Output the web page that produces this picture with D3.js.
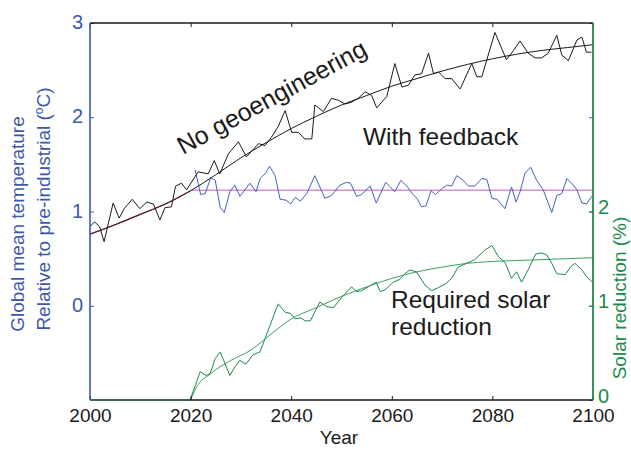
<!DOCTYPE html>
<html>
<head>
<meta charset="utf-8">
<script src="https://cdn.jsdelivr.net/npm/d3@7"></script>
<style>
  body { margin: 0; background: #fff; }
  svg { font-family: "Liberation Sans", Arial, Helvetica, sans-serif; }
</style>
</head>
<body>
<svg id="chart" width="631" height="449"></svg>
<script>
// ---- data ----
// no geoengineering, noisy (year, degC)
const noGeoYears = [2000,2000.9,2001.9,2002.8,2004.6,2005.8,2006.8,2008.4,2009.9,2011.3,2012.6,2013.9,2014.9,2016.2,2017,2018.2,2019.2,
  2021.5,2023.5,2024.7,2025.8,2027.5,2029.5,2031.1,2033.5,2034.8,2036.1,2037.4,2038.8,2040.1,2041.4,2042.7,2044.1,2044.7,2046.4,2048,
  2049.4,2050.7,2052,2053.3,2054.7,2056,2057,2058,2059,2060.6,2062,2063.3,2064.6,2065.9,2067.3,2068.3,2069.3,2070.6,2071.9,2073.6,
  2075.9,2076.9,2077.9,2080.5,2082.8,2084.2,2085.5,2087.1,2088.5,2089.8,2091.1,2092.8,2093.8,2095.1,2096.8,2097.8,2098.7,2099.7];
const noGeoTemp = [0.84,0.89,0.84,0.68,1.09,0.93,1.03,1.13,1.03,1.10,1.08,0.91,1.04,1.05,1.27,1.30,1.23,
  1.42,1.40,1.54,1.40,1.61,1.74,1.58,1.72,1.70,1.79,1.90,2.07,1.84,1.84,1.77,1.77,2.13,2.06,2.20,
  2.18,2.14,2.16,2.20,2.27,2.23,2.10,2.16,2.22,2.57,2.32,2.34,2.45,2.46,2.68,2.46,2.48,2.41,2.41,2.30,
  2.57,2.43,2.43,2.90,2.61,2.71,2.81,2.68,2.63,2.63,2.68,2.87,2.66,2.60,2.82,2.85,2.69,2.69];

// no geoengineering, smooth trend
const trendYears = [2000,2005,2010,2015,2020,2025,2030,2035,2040,2045,2050,2055,2060,2065,2070,2075,2080,2085,2090,2095,2100];
const trendTemp  = [0.76,0.86,0.97,1.08,1.22,1.39,1.57,1.73,1.88,2.01,2.13,2.23,2.33,2.41,2.49,2.56,2.62,2.67,2.71,2.74,2.77];
const histEnd = 2021;

// with feedback (geoengineered temperature)
const fbYears = [2020.9,2022,2022.9,2024,2024.9,2025.9,2026.7,2027.8,2028.8,2029.8,2031.8,2033,2033.8,2034.8,2035.7,2036.8,2037.8,2039,
  2039.9,2040.8,2041.8,2043.1,2044.7,2046.7,2048,2049.7,2051,2051.8,2053,2054,2055.7,2056.9,2058.8,2060.6,2061.8,2063,2064.2,2065,
  2065.9,2066.8,2067.8,2068.7,2069.9,2070.9,2071.9,2072.9,2074.2,2075.2,2076.5,2077.9,2078.9,2079.9,2080.9,2082.5,2083.8,2084.7,
  2085.5,2086.5,2087.6,2088.8,2090.1,2091.8,2092.8,2093.8,2094.8,2096.1,2096.8,2097.8,2098.7,2099.9];
const fbTemp = [1.44,1.18,1.19,1.36,1.33,1.04,0.99,1.21,1.28,1.16,1.30,1.21,1.35,1.40,1.48,1.38,1.13,1.12,
  1.08,1.15,1.11,1.19,1.38,1.14,1.17,1.28,1.31,1.30,1.16,1.18,1.27,1.09,1.31,1.21,1.33,1.27,1.18,1.14,
  1.05,1.06,1.22,1.18,1.24,1.28,1.27,1.38,1.33,1.27,1.27,1.35,1.34,1.14,1.13,1.03,1.26,1.10,
  1.21,1.41,1.47,1.33,1.23,0.99,1.17,1.19,1.35,1.28,1.23,1.09,1.08,1.17];

// target level
const targetYears = [2020.2, 2100];
const targetTemp = 1.225;

// required solar reduction (%), noisy
const solarYears = [2000,2005,2010,2015,2019.9,2021.9,2023.1,2023.9,2024.9,2025.9,2027.8,2028.8,2029.8,2031,2032.4,2033.8,2034.8,2037.4,
  2038.8,2039.8,2040.8,2041.9,2042.8,2043.8,2045.7,2047.1,2048.4,2050.4,2052,2053,2054,2055.3,2056.9,2057.7,2058.7,2060.3,
  2061.6,2062.6,2063.6,2064.9,2066.6,2067.9,2069.2,2070.6,2071.9,2073.2,2074.9,2076.5,2078.5,2079.9,2081.2,2082.5,2083.8,
  2084.8,2085.8,2087.1,2088.6,2089.8,2090.8,2091.8,2092.8,2094.5,2095.5,2096.4,2097.8,2098.7,2099.9];
const solarRed = [0,0,0,0,0,0.30,0.26,0.28,0.44,0.51,0.26,0.35,0.42,0.38,0.48,0.51,0.65,1.02,
  0.93,0.92,0.86,0.87,0.84,0.84,1.04,0.99,0.98,1.11,1.20,1.15,1.16,1.20,1.25,1.15,1.17,1.25,
  1.28,1.34,1.38,1.36,1.22,1.16,1.19,1.23,1.29,1.41,1.45,1.49,1.59,1.64,1.52,1.46,1.29,
  1.36,1.25,1.38,1.55,1.56,1.54,1.45,1.34,1.33,1.41,1.45,1.38,1.31,1.25];

// required solar reduction, smooth
const solarTrendYears = [2020,2021,2024,2028,2032,2036,2040,2045,2050,2055,2060,2065,2070,2075,2080,2085,2090,2095,2100];
const solarTrend = [0,0.12,0.28,0.42,0.53,0.70,0.86,0.98,1.10,1.20,1.29,1.36,1.41,1.45,1.47,1.48,1.49,1.50,1.51];

const xTicks = [2000,2020,2040,2060,2080,2100];
const leftTicks = [0,1,2,3];
const rightTicks = [0,1,2];

// ---- layout ----
const blue = "#3c58a8", green = "#1b8a4b", black = "#1a1a1a";
const mLeft = 90, mRight = 593, mTop = 23, mBottom = 400;

const svg = d3.select("#chart");

const x = d3.scaleLinear().domain([2000, 2100]).range([mLeft, mRight]);
const yL = d3.scaleLinear().domain([-1, 3]).range([mBottom, mTop]);
const yR = d3.scaleLinear().domain([0, 4]).range([mBottom, mTop]);

function zip(a, b) { return a.map((v, i) => [v, b[i]]); }

const lineL = d3.line().x(d => x(d[0])).y(d => yL(d[1]));
const lineR = d3.line().x(d => x(d[0])).y(d => yR(d[1]));
const smoothL = d3.line().x(d => x(d[0])).y(d => yL(d[1])).curve(d3.curveMonotoneX);
const smoothR = d3.line().x(d => x(d[0])).y(d => yR(d[1])).curve(d3.curveMonotoneX);

const plot = svg.append("g").attr("fill", "none").attr("stroke-width", 1);

// solar reduction
plot.append("path").attr("d", smoothR(zip(solarTrendYears, solarTrend))).attr("stroke", "#3aa066");
plot.append("path").attr("d", lineR(zip(solarYears, solarRed).filter(d => d[0] >= 2019.9))).attr("stroke", green);

// target line
plot.append("path").attr("d", lineL(targetYears.map(t => [t, targetTemp]))).attr("stroke", "#d98fd2").attr("stroke-width", 1.6);

// feedback
plot.append("path").attr("d", lineL(zip(fbYears, fbTemp))).attr("stroke", "#4262c0");

// no geoengineering
plot.append("path").attr("d", lineL(zip(noGeoYears, noGeoTemp))).attr("stroke", black);
const trend = zip(trendYears, trendTemp);
plot.append("path").attr("d", smoothL(trend)).attr("stroke", black);
const histTrend = trend.filter(d => d[0] <= histEnd);
plot.append("path").attr("d", smoothL(histTrend)).attr("stroke", "#5a1f3c").attr("stroke-width", 1.2);

// ---- axes ----
function styleAxis(g, color, size) {
  g.select(".domain").remove();
  g.selectAll(".tick line").attr("stroke", color);
  g.selectAll(".tick text").attr("fill", color).style("font-size", size + "px")
    .style("font-family", "'Liberation Sans', Arial, sans-serif");
}

svg.append("g").attr("transform", `translate(0,${mBottom})`)
  .call(d3.axisBottom(x).tickValues(xTicks).tickFormat(d3.format("d")).tickSize(-4).tickPadding(9))
  .call(g => styleAxis(g, black, 19));
svg.append("g").attr("transform", `translate(0,${mTop})`)
  .call(d3.axisTop(x).tickValues(xTicks).tickFormat("").tickSize(-4))
  .call(g => styleAxis(g, black, 19));

svg.append("g").attr("transform", `translate(${mLeft},0)`)
  .call(d3.axisLeft(yL).tickValues(leftTicks).tickFormat(d3.format("d")).tickSize(-4).tickPadding(7))
  .call(g => styleAxis(g, blue, 20))
  .call(g => g.selectAll(".tick text").attr("dy", "0.28em"));
svg.append("g").attr("transform", `translate(${mRight},0)`)
  .call(d3.axisLeft(yL).tickValues(leftTicks).tickSize(4).tickFormat(""))
  .call(g => styleAxis(g, blue, 20));

svg.append("g").attr("transform", `translate(${mRight},0)`)
  .call(d3.axisRight(yR).tickValues(rightTicks).tickFormat(d3.format("d")).tickSize(-4).tickPadding(5))
  .call(g => styleAxis(g, green, 20))
  .call(g => g.selectAll(".tick text").attr("dy", "0.1em"));

// frame
svg.append("line").attr("x1", mLeft).attr("x2", mRight).attr("y1", mTop).attr("y2", mTop).attr("stroke", black).attr("stroke-width", 1.3);
svg.append("line").attr("x1", mLeft).attr("x2", mRight).attr("y1", mBottom).attr("y2", mBottom).attr("stroke", black).attr("stroke-width", 1.3);
svg.append("line").attr("x1", mLeft).attr("x2", mLeft).attr("y1", mTop).attr("y2", mBottom).attr("stroke", blue).attr("stroke-width", 1.6);
svg.append("line").attr("x1", mRight).attr("x2", mRight).attr("y1", mTop).attr("y2", mBottom).attr("stroke", green).attr("stroke-width", 1.8);

// flat part of the solar series sits on the bottom axis
svg.append("path").attr("fill", "none").attr("stroke", green).attr("stroke-width", 1.2)
  .attr("stroke-dasharray", "5,4")
  .attr("d", lineR(zip(solarYears, solarRed).filter(d => d[0] <= 2020)));

// ---- labels ----
svg.append("text").attr("x", 339).attr("y", 444).attr("text-anchor", "middle")
  .attr("fill", black).style("font-size", "19px").text("Year");

svg.append("text").attr("transform", "translate(24,224) rotate(-90)").attr("text-anchor", "middle")
  .attr("fill", blue).style("font-size", "19px").text("Global mean temperature");
const rel = svg.append("text").attr("transform", "translate(50,209) rotate(-90)").attr("text-anchor", "middle")
  .attr("fill", blue).style("font-size", "19px");
rel.append("tspan").text("Relative to pre-industrial (");
rel.append("tspan").attr("dy", -7).style("font-size", "12px").text("o");
rel.append("tspan").attr("dy", 7).text("C)");

svg.append("text").attr("transform", "translate(626,298) rotate(-90)").attr("text-anchor", "middle")
  .attr("fill", green).style("font-size", "19px").text("Solar reduction (%)");

svg.append("text").attr("transform", "translate(183,155) rotate(-28.5)")
  .attr("fill", black).style("font-size", "25px").text("No geoengineering");
svg.append("text").attr("x", 363).attr("y", 145)
  .attr("fill", black).style("font-size", "24.5px").text("With feedback");
svg.append("text").attr("x", 391).attr("y", 308)
  .attr("fill", black).style("font-size", "24.5px").text("Required solar");
svg.append("text").attr("x", 391).attr("y", 335)
  .attr("fill", black).style("font-size", "24.5px").text("reduction");
</script>
</body>
</html>
